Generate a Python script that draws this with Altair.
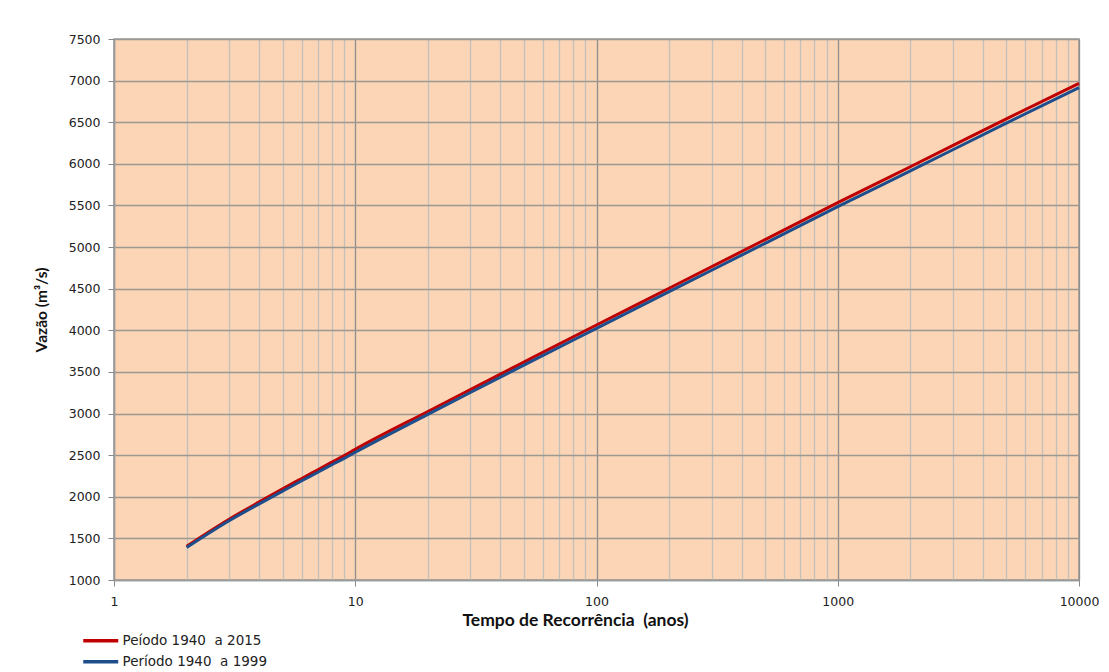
import altair as alt
import pandas as pd

# Return periods (years)
periods = [2, 3, 4, 5, 6, 7, 8, 9, 10, 20, 30, 50, 100, 200, 500, 1000, 2000, 5000, 10000]

# Discharge (m3/s)
serie_2015 = [1405, 1730, 1938, 2095, 2220, 2325, 2416, 2495, 2570, 3025, 3288, 3618,
              4064, 4505, 5090, 5534, 5965, 6540, 6968]
serie_1999 = [1390, 1712, 1915, 2068, 2192, 2295, 2385, 2462, 2535, 2990, 3253, 3582,
              4024, 4465, 5045, 5486, 5915, 6490, 6915]

series_names = ["Peíodo 1940\u00a0 a 2015", "Período 1940\u00a0 a 1999"]
series_colors = ["#C00000", "#1F4E8C"]

x_grid_values = [m * 10 ** e for e in range(0, 4) for m in range(1, 10)] + [10000]
x_major = [1, 10, 100, 1000, 10000]
y_values = list(range(1000, 7501, 500))

rows = []
for t, v in zip(periods, serie_2015):
    rows.append({"T": t, "Q": v, "Serie": series_names[0]})
for t, v in zip(periods, serie_1999):
    rows.append({"T": t, "Q": v, "Serie": series_names[1]})
df = pd.DataFrame(rows)

major_test = "indexof([1,10,100,1000,10000], datum.value) >= 0"

x_axis = alt.Axis(
    values=x_grid_values,
    title="Tempo de Recorrência\u00a0 (anos)",
    titleFont="Lato", titleFontSize=17.5, titleFontWeight="bold", titleColor="#111111",
    titleX=461, titlePadding=4,
    labelExpr=f"{major_test} ? format(datum.value, 'd') : ''",
    labelFont="DejaVu Sans", labelFontSize=12.5, labelColor="#222222",
    labelPadding=9, labelFlush=False, labelOverlap=False,
    grid=True,
    gridColor={"condition": {"test": major_test, "value": "#8f8f8f"}, "value": "#c4c0bc"},
    gridWidth=1.3,
    tickColor="#888888", tickSize=6,
    tickOpacity={"condition": {"test": major_test, "value": 1}, "value": 0},
    domainColor="#9a9a9a", domainWidth=1.5,
)

y_axis = alt.Axis(
    values=y_values,
    format="d",
    title="Vazão (m³/s)",
    titleFont="Lato", titleFontSize=15.5, titleFontWeight="bold", titleColor="#111111",
    titlePadding=19,
    labelFont="DejaVu Sans", labelFontSize=12.5, labelColor="#222222",
    labelPadding=8, labelFlush=False,
    grid=True, gridColor="#9c9894", gridWidth=1.3,
    tickColor="#888888", tickSize=6,
    domainColor="#9a9a9a", domainWidth=1.5,
)

chart = alt.Chart(df).mark_line(strokeWidth=3, interpolate="monotone").encode(
    x=alt.X("T:Q", scale=alt.Scale(type="log", domain=[1, 10000], nice=False), axis=x_axis),
    y=alt.Y("Q:Q", scale=alt.Scale(domain=[1000, 7500], nice=False, zero=False), axis=y_axis),
    color=alt.Color(
        "Serie:N",
        scale=alt.Scale(domain=series_names, range=series_colors),
        sort=series_names,
        legend=alt.Legend(
            title=None, orient="none", legendX=-20, legendY=595,
            symbolType="M-5,0H5", symbolSize=49, symbolStrokeWidth=3.5,
            labelFont="DejaVu Sans", labelFontSize=13.5, labelColor="#222222",
            rowPadding=6, labelOffset=15,
        ),
    ),
    order=alt.Order("T:Q"),
).properties(
    width=965, height=541,
    background="white",
    autosize=alt.AutoSizeParams(type="none"),
    padding={"left": 106, "top": 31, "right": 20, "bottom": 96},
).configure_view(
    fill="#FBD5B5", stroke="#9a9a9a", strokeWidth=1.5,
)

chart.save("out.html", embed_options={"renderer": "svg", "actions": False})
